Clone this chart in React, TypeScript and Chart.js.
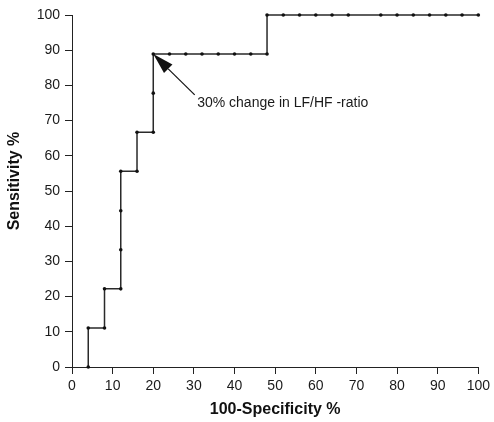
import React, { useEffect, useRef } from "react";
import { Chart, registerables } from "chart.js";

Chart.register(...registerables);

// ROC curve data (100-Specificity %, Sensitivity %)
const specificityComplement = [
  4, 4, 8, 8, 12, 12, 12, 12, 16, 16, 20, 20, 20, 24, 28, 32, 36, 40, 44, 48, 48,
  52, 56, 60, 64, 68, 76, 80, 84, 88, 92, 96, 100,
];
const sensitivity = [
  0, 11.1, 11.1, 22.2, 22.2, 33.3, 44.4, 55.6, 55.6, 66.7, 66.7, 77.8, 88.9, 88.9,
  88.9, 88.9, 88.9, 88.9, 88.9, 88.9, 100, 100, 100, 100, 100, 100, 100, 100, 100,
  100, 100, 100, 100,
];
const xTickValues = [0, 10, 20, 30, 40, 50, 60, 70, 80, 90, 100];
const yTickValues = [0, 10, 20, 30, 40, 50, 60, 70, 80, 90, 100];

const xTitle = "100-Specificity %";
const yTitle = "Sensitivity %";
const annotationText = "30% change in LF/HF -ratio";
const arrowTip = [20, 88.9];
const arrowTail = [30.2, 77.3];
const annotationAnchor = [30.8, 75.1];

const FONT = "'Liberation Sans', Arial, Helvetica, sans-serif";

const annotationPlugin = {
  id: "rocAnnotation",
  afterDraw(chart: any) {
    const { ctx, scales } = chart;
    const xs = scales.x;
    const ys = scales.y;
    const tx = xs.getPixelForValue(arrowTip[0]);
    const ty = ys.getPixelForValue(arrowTip[1]);
    const sx = xs.getPixelForValue(arrowTail[0]);
    const sy = ys.getPixelForValue(arrowTail[1]);
    const ang = Math.atan2(sy - ty, sx - tx);
    const headLen = 21;
    const headHalf = 6;
    const bx = tx + Math.cos(ang) * headLen;
    const by = ty + Math.sin(ang) * headLen;
    ctx.save();
    ctx.strokeStyle = "#111";
    ctx.fillStyle = "#111";
    ctx.lineWidth = 1.2;
    ctx.beginPath();
    ctx.moveTo(sx, sy);
    ctx.lineTo(bx, by);
    ctx.stroke();
    ctx.beginPath();
    ctx.moveTo(tx, ty);
    ctx.lineTo(bx + Math.cos(ang + Math.PI / 2) * headHalf, by + Math.sin(ang + Math.PI / 2) * headHalf);
    ctx.lineTo(bx + Math.cos(ang - Math.PI / 2) * headHalf, by + Math.sin(ang - Math.PI / 2) * headHalf);
    ctx.closePath();
    ctx.fill();

    ctx.font = `14px ${FONT}`;
    ctx.textAlign = "left";
    ctx.textBaseline = "middle";
    ctx.fillStyle = "#1a1a1a";
    ctx.fillText(
      annotationText,
      xs.getPixelForValue(annotationAnchor[0]),
      ys.getPixelForValue(annotationAnchor[1])
    );

    // y-axis title
    ctx.translate(15, 181);
    ctx.rotate(-Math.PI / 2);
    ctx.font = `bold 16px ${FONT}`;
    ctx.textAlign = "center";
    ctx.textBaseline = "middle";
    ctx.fillStyle = "#111";
    ctx.fillText(yTitle, 0, 0);
    ctx.restore();
  },
};

export default function App() {
  const canvasRef = useRef<HTMLCanvasElement | null>(null);

  useEffect(() => {
    if (!canvasRef.current) return;
    const data = specificityComplement.map((x, i) => ({ x, y: sensitivity[i] }));
    const chart = new Chart(canvasRef.current, {
      type: "scatter",
      data: {
        datasets: [
          {
            data,
            showLine: true,
            borderColor: "#2a2a2a",
            borderWidth: 1.5,
            pointRadius: 1.8,
            pointBackgroundColor: "#111",
            pointBorderWidth: 0,
            pointHoverRadius: 1.8,
            clip: false as any,
          },
        ],
      },
      options: {
        animation: false,
        responsive: false,
        devicePixelRatio: 1,
        events: [],
        layout: {
          autoPadding: false,
          padding: { top: 15, right: 12, left: 0, bottom: 0 },
        } as any,
        plugins: {
          legend: { display: false },
          tooltip: { enabled: false },
        },
        scales: {
          x: {
            type: "linear",
            min: 0,
            max: 100,
            afterBuildTicks: (s: any) => {
              s.ticks = xTickValues.map((v) => ({ value: v }));
            },
            ticks: {
              font: { size: 14, family: FONT },
              color: "#1a1a1a",
              padding: 4,
              maxRotation: 0,
              autoSkip: false,
            },
            grid: {
              drawOnChartArea: false,
              drawTicks: true,
              tickLength: 7,
              color: "#222",
              lineWidth: 1,
            },
            border: { display: true, color: "#222", width: 1 },
            title: {
              display: true,
              text: xTitle,
              font: { size: 16, weight: "bold", family: FONT },
              color: "#111",
              padding: { top: 0, bottom: 3 },
            },
            afterFit: (s: any) => {
              s.height = 55;
            },
          },
          y: {
            type: "linear",
            min: 0,
            max: 100,
            afterBuildTicks: (s: any) => {
              s.ticks = yTickValues.map((v) => ({ value: v }));
            },
            ticks: {
              font: { size: 14, family: FONT },
              color: "#1a1a1a",
              padding: 5,
              autoSkip: false,
            },
            grid: {
              drawOnChartArea: false,
              drawTicks: true,
              tickLength: 7,
              color: "#222",
              lineWidth: 1,
            },
            border: { display: true, color: "#222", width: 1 },
            afterFit: (s: any) => {
              s.width = 72;
            },
          },
        },
      },
      plugins: [annotationPlugin],
    });
    return () => chart.destroy();
  }, []);

  return (
    <div style={{ position: "absolute", left: 0, top: 0, width: 494, height: 422, background: "#fff" }}>
      <canvas ref={canvasRef} width={494} height={422} style={{ display: "block" }} />
    </div>
  );
}
